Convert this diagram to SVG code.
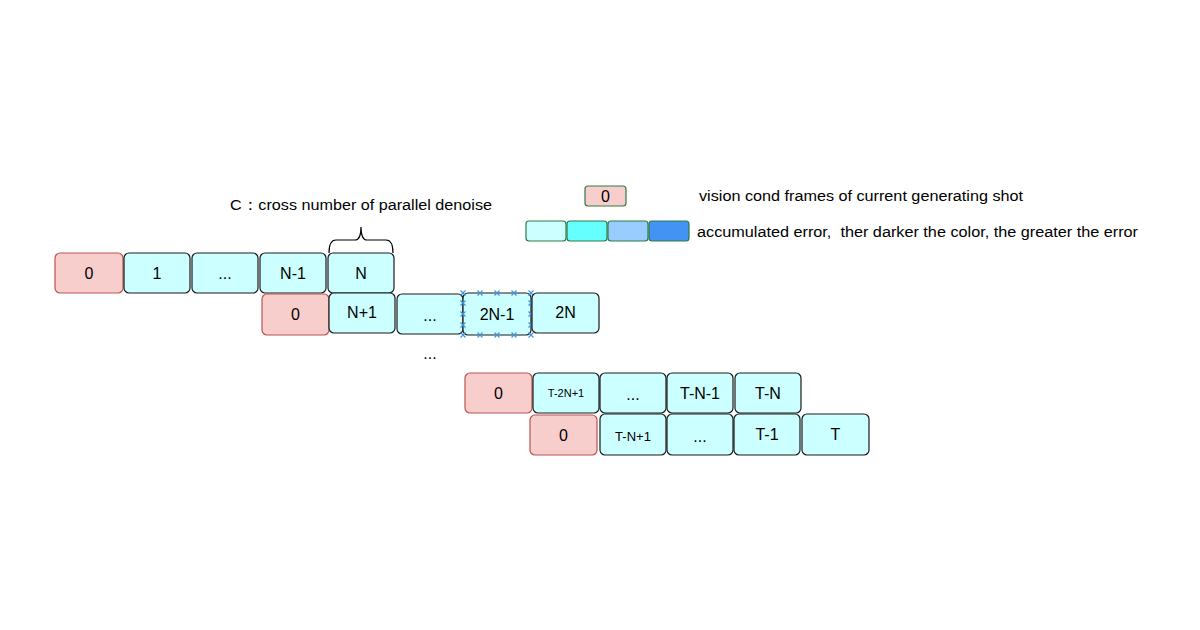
<svg xmlns="http://www.w3.org/2000/svg" width="1200" height="630" viewBox="0 0 1200 630">
<style>
text{font-family:"Liberation Sans",Arial,sans-serif;fill:#000;}
.lbl{font-size:16px;text-anchor:middle;dominant-baseline:central;}
.cy{fill:#ccffff;stroke:#1a1a1a;stroke-width:1.2;}
.pk{fill:#f8cecc;stroke:#b85450;stroke-width:1.2;}
.lg{stroke:#2e7a45;stroke-width:1.2;}
.note{font-size:15.5px;white-space:pre;}
.mk{stroke:#3d93dc;stroke-width:1.1;fill:none;}
</style>
<defs>
<path id="x" class="mk" d="M-2.5,-2.5L2.5,2.5M-2.5,2.5L2.5,-2.5"/>
</defs>
<rect width="1200" height="630" fill="#fff"/>

<text class="note" x="230" y="210" textLength="262" lengthAdjust="spacingAndGlyphs">C：cross number of parallel denoise</text>
<path d="M329,253 Q329,240 336,240 L355,240 Q361,240 361,227 Q361,240 367,240 L386,240 Q393,240 393,253" fill="none" stroke="#000" stroke-width="1.2"/>

<g id="legend">
<rect x="585" y="186" width="41" height="20" rx="3" class="lg" fill="#f8cecc"/>
<text class="lbl" x="605.5" y="196.5">0</text>
<text class="note" x="699" y="201" textLength="324" lengthAdjust="spacingAndGlyphs">vision cond frames of current generating shot</text>
<rect x="526" y="221" width="40" height="20" rx="3" class="lg" fill="#ccffff"/>
<rect x="567" y="221" width="40" height="20" rx="3" class="lg" fill="#66ffff"/>
<rect x="608" y="221" width="40" height="20" rx="3" class="lg" fill="#99ccff"/>
<rect x="649" y="221" width="40" height="20" rx="3" class="lg" fill="#4393f5"/>
<text class="note" x="697" y="237" textLength="441" lengthAdjust="spacingAndGlyphs" xml:space="preserve">accumulated error,  ther darker the color, the greater the error</text>
</g>

<g id="row1">
<g id="r1-0"><rect x="55" y="253" width="68" height="40" rx="5" class="pk"/><text class="lbl" x="89" y="273">0</text></g>
<g id="r1-1"><rect x="124" y="253" width="66" height="40" rx="5" class="cy"/><text class="lbl" x="157" y="273">1</text></g>
<g id="r1-2"><rect x="192" y="253" width="66" height="40" rx="5" class="cy"/><text class="lbl" x="225" y="273">...</text></g>
<g id="r1-3"><rect x="260" y="253" width="66" height="40" rx="5" class="cy"/><text class="lbl" x="293" y="273">N-1</text></g>
<g id="r1-4"><rect x="328" y="253" width="66" height="40" rx="5" class="cy"/><text class="lbl" x="361" y="273">N</text></g>
</g>

<g id="row2">
<g id="r2-0"><rect x="262" y="294" width="67" height="41" rx="5" class="pk"/><text class="lbl" x="295.5" y="314.5">0</text></g>
<g id="r2-1"><rect x="329" y="293" width="66" height="40" rx="5" class="cy"/><text class="lbl" x="362" y="312">N+1</text></g>
<g id="r2-2"><rect x="397" y="294" width="66" height="40" rx="5" class="cy"/><text class="lbl" x="430" y="315">...</text></g>
<g id="r2-3"><rect x="463" y="293" width="68" height="42" rx="5" class="cy"/><text class="lbl" x="497" y="314">2N-1</text>
<use href="#x" x="463" y="293"/><use href="#x" x="480" y="293"/><use href="#x" x="497" y="293"/><use href="#x" x="514" y="293"/><use href="#x" x="531" y="293"/>
<use href="#x" x="463" y="335"/><use href="#x" x="480" y="335"/><use href="#x" x="497" y="335"/><use href="#x" x="514" y="335"/><use href="#x" x="531" y="335"/>
<use href="#x" x="463" y="303"/><use href="#x" x="463" y="314"/><use href="#x" x="463" y="325"/>
<use href="#x" x="531" y="303"/><use href="#x" x="531" y="314"/><use href="#x" x="531" y="325"/>
</g>
<g id="r2-4"><rect x="532" y="293" width="67" height="40" rx="5" class="cy"/><text class="lbl" x="565.5" y="312">2N</text></g>
</g>

<text class="lbl" x="430" y="353">...</text>

<g id="row3">
<g id="r3-0"><rect x="465" y="373" width="67" height="40" rx="5" class="pk"/><text class="lbl" x="498.5" y="393">0</text></g>
<g id="r3-1"><rect x="533" y="373" width="66" height="40" rx="5" class="cy"/><text class="lbl" x="566" y="393" style="font-size:11px">T-2N+1</text></g>
<g id="r3-2"><rect x="600" y="373" width="66" height="40" rx="5" class="cy"/><text class="lbl" x="633" y="394">...</text></g>
<g id="r3-3"><rect x="667" y="373" width="66" height="40" rx="5" class="cy"/><text class="lbl" x="700" y="393">T-N-1</text></g>
<g id="r3-4"><rect x="735" y="373" width="66" height="40" rx="5" class="cy"/><text class="lbl" x="768" y="393">T-N</text></g>
</g>

<g id="row4">
<g id="r4-0"><rect x="530" y="415" width="67" height="40" rx="5" class="pk"/><text class="lbl" x="563.5" y="435">0</text></g>
<g id="r4-1"><rect x="600" y="414" width="66" height="41" rx="5" class="cy"/><text class="lbl" x="633" y="436" style="font-size:13px">T-N+1</text></g>
<g id="r4-2"><rect x="667" y="414" width="66" height="41" rx="5" class="cy"/><text class="lbl" x="700" y="436">...</text></g>
<g id="r4-3"><rect x="734" y="414" width="66" height="41" rx="5" class="cy"/><text class="lbl" x="767" y="434">T-1</text></g>
<g id="r4-4"><rect x="802" y="414" width="67" height="41" rx="5" class="cy"/><text class="lbl" x="835.5" y="434">T</text></g>
</g>

<g id="connectors"></g>
</svg>
